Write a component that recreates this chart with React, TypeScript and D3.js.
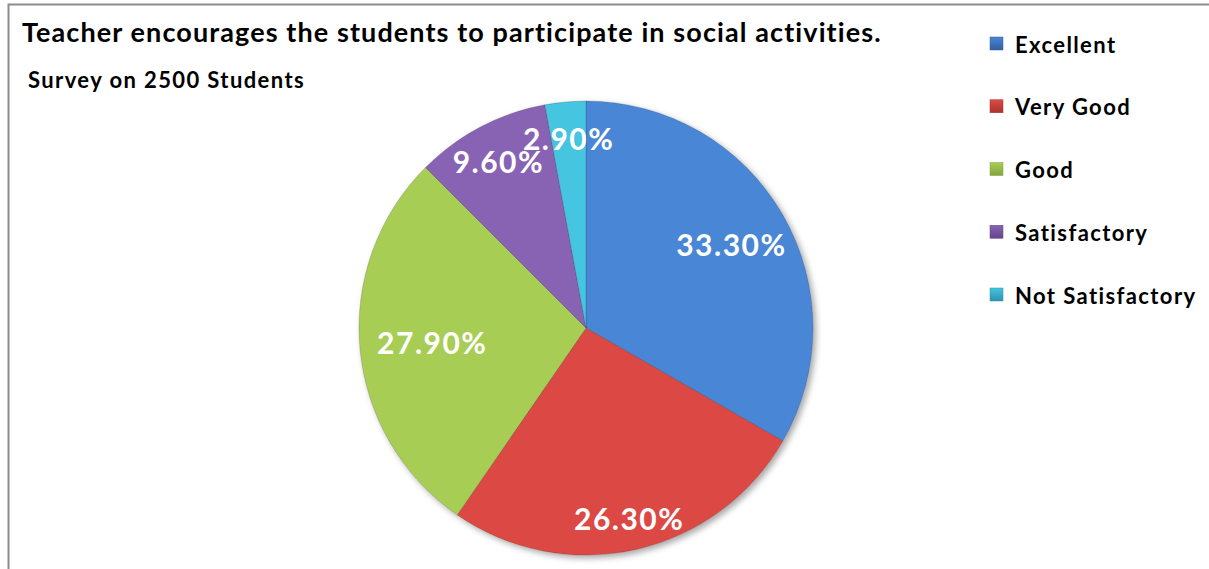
import React from "react";
import * as d3 from "d3";

// survey categories and their shares (%)
const categories = ["Excellent", "Very Good", "Good", "Satisfactory", "Not Satisfactory"];
const values = [33.3, 26.3, 27.9, 9.6, 2.9];
const labels = ["33.30%", "26.30%", "27.90%", "9.60%", "2.90%"];

const colorsLight = ["#4886d6", "#dc4a45", "#a8cd55", "#8863b3", "#44c5e0"];
const colorsDark = ["#335fa0", "#a9342e", "#83a43f", "#65468c", "#2c93ad"];

// how far out each label sits (fraction of radius), like Excel's best fit
const labelPos = [0.74, 0.86, 0.68, 0.83, 0.84];

const W = 1209;
const H = 569;
const cx = 586;
const cy = 328;
const R = 227;

export default function App() {
  const pie = d3
    .pie<number>()
    .sort(null)
    .value((d) => d);
  const arcs = pie(values);
  const arc = d3.arc<d3.PieArcDatum<number>>().innerRadius(0).outerRadius(R);

  const legendY = d3
    .scalePoint<string>()
    .domain(categories)
    .range([44, 295]);

  return (
    <svg
      width={W}
      height={H}
      style={{ position: "absolute", left: 0, top: 0, display: "block" }}
      fontFamily="Lato, 'Open Sans', sans-serif"
    >
      <defs>
        {categories.map((c, i) => (
          <linearGradient
            key={c}
            id={"g" + i}
            gradientUnits="userSpaceOnUse"
            x1={cx - R * 0.4}
            y1={cy - R}
            x2={cx + R * 0.4}
            y2={cy + R}
          >
            <stop offset="0" stopColor={colorsLight[i]} />
            <stop offset="1" stopColor={colorsDark[i]} />
          </linearGradient>
        ))}
        {categories.map((c, i) => (
          <linearGradient key={"l" + c} id={"lg" + i} x1="0" y1="0" x2="0" y2="1">
            <stop offset="0" stopColor={colorsLight[i]} />
            <stop offset="1" stopColor={colorsDark[i]} />
          </linearGradient>
        ))}
        <filter id="shadow" x="-10%" y="-10%" width="125%" height="125%">
          <feDropShadow dx="3" dy="3" stdDeviation="3" floodColor="#000" floodOpacity="0.35" />
        </filter>
      </defs>

      <rect x={8.5} y={4.5} width={W} height={H} fill="#fff" stroke="#8c8c8c" strokeWidth={2} />

      <text x={22} y={42} fontSize={27} fontWeight="bold" letterSpacing={1.1} fill="#000">
        Teacher encourages the students to participate in social activities.
      </text>
      <text x={28} y={88} fontSize={22} fontWeight="bold" letterSpacing={1.4} fill="#000">
        Survey on 2500 Students
      </text>

      <g filter="url(#shadow)">
        {arcs.map((a, i) => (
          <path
            key={i}
            d={arc(a) ?? ""}
            transform={`translate(${cx},${cy})`}
            fill={`url(#g${i})`}
            stroke="rgba(0,0,0,0.14)"
            strokeWidth={1}
            strokeLinejoin="round"
          />
        ))}
      </g>
      {arcs.map((a, i) => {
        const lr = R * labelPos[i];
        const [lx, ly] = d3.arc<d3.PieArcDatum<number>>().innerRadius(lr).outerRadius(lr).centroid(a);
        return (
          <text
            key={"t" + i}
            x={cx + lx}
            y={cy + ly}
            textAnchor="middle"
            dominantBaseline="central"
            fontSize={30}
            fontWeight="bold"
            letterSpacing={1.5}
            fill="#fff"
          >
            {labels[i]}
          </text>
        );
      })}

      {categories.map((c, i) => (
        <g key={c} transform={`translate(990,${legendY(c)})`}>
          <rect x={0} y={-7} width={13} height={13} fill={`url(#lg${i})`} stroke={colorsDark[i]} strokeWidth={0.5} />
          <text x={25} y={0} dominantBaseline="central" fontSize={22} fontWeight="bold" letterSpacing={1.4} fill="#000">
            {c}
          </text>
        </g>
      ))}
    </svg>
  );
}
